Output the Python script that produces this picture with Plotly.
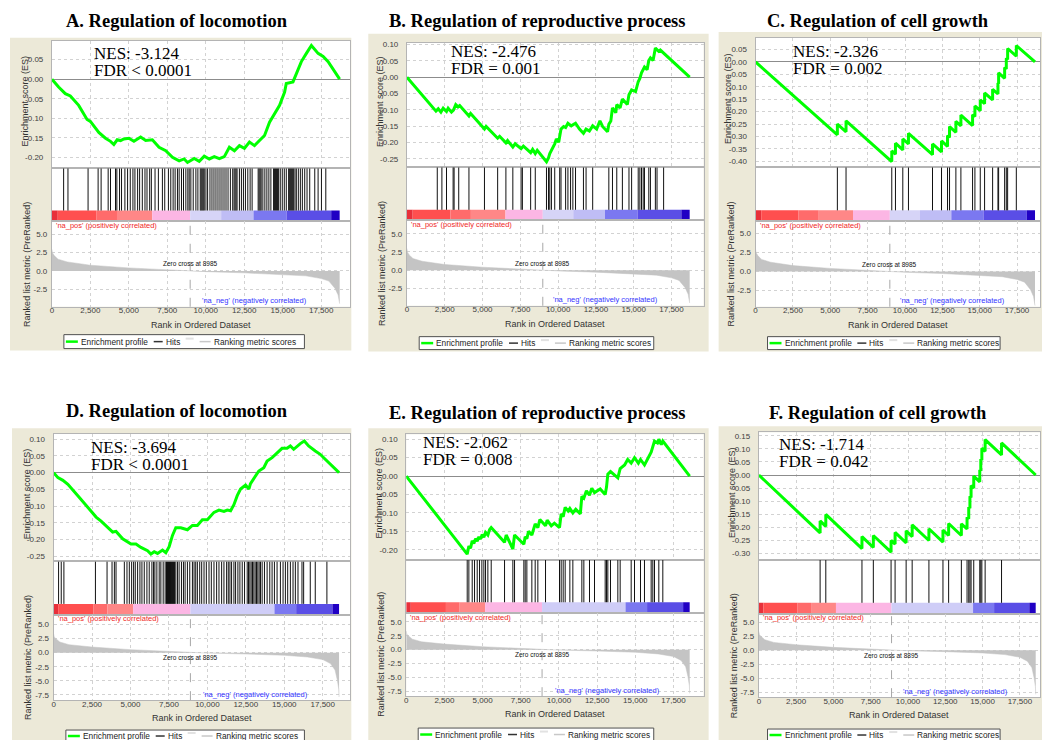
import plotly.graph_objects as go

W, H = 1044, 740

# ---------------------------------------------------------------- data
PANEL_TITLES = [
    "A. Regulation of locomotion",
    "B. Regulation of reproductive process",
    "C. Regulation of cell growth",
    "D. Regulation of locomotion",
    "E. Regulation of reproductive process",
    "F. Regulation of cell growth",
]
NES_TEXT = ["NES: -3.124", "NES: -2.476", "NES: -2.326",
            "NES: -3.694", "NES: -2.062", "NES: -1.714"]
FDR_TEXT = ["FDR < 0.0001", "FDR = 0.001", "FDR = 0.002",
            "FDR < 0.0001", "FDR = 0.008", "FDR = 0.042"]
ZERO_CROSS = [8985, 8985, 8985, 8895, 8895, 8895]
N_GENES = [18700, 18700, 18700, 18560, 18560, 18560]
RANK_TICKS = [0, 2500, 5000, 7500, 10000, 12500, 15000, 17500]

# running enrichment score, panel A
ES_A_RANK = [0, 435, 870, 1197, 1741, 2285, 2500, 3046, 3482, 3808, 4026, 4243, 4461, 4678,
             5005, 5331, 5766, 6093, 6528, 6963, 7398, 7834, 8269, 8595, 8813, 9248, 9574,
             9901, 10227, 10554, 10880, 11206, 11533, 11860, 12186, 12512, 12838, 13165,
             13491, 13818, 14144, 14470, 14797, 15123, 15232, 15667, 15885, 16211, 16538,
             16864, 17299, 17626, 17952, 18700]
ES_A_SCORE = [0, -0.020, -0.037, -0.043, -0.067, -0.103, -0.108, -0.136, -0.151, -0.159,
              -0.167, -0.155, -0.157, -0.153, -0.151, -0.159, -0.148, -0.157, -0.155, -0.174,
              -0.183, -0.200, -0.209, -0.204, -0.213, -0.203, -0.210, -0.197, -0.204, -0.198,
              -0.203, -0.198, -0.174, -0.183, -0.170, -0.177, -0.161, -0.170, -0.157, -0.144,
              -0.110, -0.088, -0.067, -0.033, -0.011, -0.007, 0.015, 0.045, 0.066, 0.086,
              0.066, 0.058, 0.045, 0.0]

# panel B
ES_B_RANK = [0, 1920, 2073, 2247, 2400, 2618, 2727, 2946, 3077, 3229, 3382, 3491, 4102, 4211,
             5128, 5237, 6000, 6131, 6546, 6655, 7004, 7157, 7550, 7703, 8183, 8314, 8488,
             8619, 9230, 9361, 9448, 9622, 9775, 9884, 10037, 10190, 10365, 10495, 10648,
             10866, 11150, 11412, 11674, 11848, 12067, 12285, 12547, 12765, 12939, 13267,
             13354, 13485, 13594, 13812, 13878, 14096, 14249, 14576, 14685, 14860, 15122,
             15296, 15405, 15514, 15624, 15711, 15885, 15995, 16104, 16278, 16431, 16649,
             16758, 18700]
ES_B_SCORE = [0, -0.104, -0.097, -0.107, -0.095, -0.105, -0.095, -0.107, -0.101, -0.084,
              -0.091, -0.087, -0.119, -0.111, -0.159, -0.151, -0.187, -0.181, -0.201, -0.194,
              -0.214, -0.204, -0.219, -0.211, -0.231, -0.221, -0.234, -0.224, -0.259, -0.247,
              -0.234, -0.219, -0.204, -0.189, -0.199, -0.159, -0.151, -0.154, -0.141, -0.149,
              -0.141, -0.159, -0.172, -0.159, -0.165, -0.149, -0.159, -0.134, -0.151, -0.167,
              -0.144, -0.134, -0.094, -0.109, -0.084, -0.094, -0.067, -0.084, -0.054, -0.039,
              -0.044, -0.014, -0.004, 0.013, 0.023, 0.031, 0.023, 0.051, 0.059, 0.051,
              0.089, 0.079, 0.083, 0.0]

# panel C (value before / after each hit)
ES_C_RANK = [0, 5474, 5474, 6055, 6055, 9115, 9115, 9361, 9361, 9853, 9853, 10232, 10232,
             11841, 11841, 12444, 12444, 12846, 12846, 12980, 12980, 13405, 13405, 13740,
             13740, 14522, 14522, 14678, 14678, 15036, 15036, 15326, 15326, 15863, 15863,
             16220, 16220, 16265, 16265, 16667, 16667, 16779, 16779, 16868, 16868, 17449,
             17449, 18700]
ES_C_SCORE = [0, -0.293, -0.250, -0.281, -0.237, -0.401, -0.358, -0.371, -0.327, -0.354,
              -0.310, -0.330, -0.287, -0.373, -0.330, -0.362, -0.318, -0.340, -0.296, -0.304,
              -0.260, -0.283, -0.239, -0.257, -0.214, -0.256, -0.212, -0.220, -0.177, -0.196,
              -0.153, -0.168, -0.125, -0.153, -0.110, -0.129, -0.085, -0.088, -0.044, -0.066,
              -0.022, -0.028, 0.015, 0.010, 0.054, 0.023, 0.066, 0.0]

# panel D
ES_D_RANK = [0, 281, 605, 928, 1576, 2224, 2763, 3087, 3519, 3843, 4059, 4491, 5031, 5354,
             5678, 6110, 6326, 6542, 6757, 7081, 7297, 7513, 7729, 7945, 8269, 8701, 9025,
             9348, 9672, 9996, 10428, 10752, 11076, 11292, 11508, 11724, 11940, 12156, 12480,
             12696, 12803, 13127, 13343, 13667, 13883, 14207, 14530, 14854, 15178, 15394,
             15610, 15826, 16042, 16301, 16581, 17013, 17337, 17661, 17985, 18560]
ES_D_SCORE = [0, -0.015, -0.023, -0.035, -0.069, -0.104, -0.133, -0.145, -0.165, -0.178,
              -0.176, -0.198, -0.214, -0.214, -0.224, -0.234, -0.244, -0.237, -0.242, -0.232,
              -0.240, -0.222, -0.188, -0.165, -0.165, -0.171, -0.158, -0.158, -0.141, -0.141,
              -0.119, -0.112, -0.116, -0.112, -0.114, -0.096, -0.069, -0.049, -0.037, -0.049,
              -0.033, -0.010, 0.005, 0.015, 0.035, 0.045, 0.060, 0.073, 0.073, 0.080,
              0.070, 0.080, 0.087, 0.095, 0.080, 0.065, 0.055, 0.040, 0.025, 0.0]

# panel E
ES_E_RANK = [0, 3993, 4102, 4211, 4320, 4429, 4539, 4648, 4757, 4866, 4975, 5084, 5193, 5346,
             5455, 5564, 6437, 6546, 6982, 7092, 7702, 7790, 7899, 8010, 8226, 8444, 8619,
             8750, 9121, 9230, 9500, 9700, 10037, 10146, 10277, 10408, 10600, 10714, 10910,
             11100, 11400, 11499, 11630, 11800, 12001, 12150, 12328, 12700, 13027, 13114,
             13201, 13376, 13856, 14008, 14300, 14500, 14729, 14947, 15200, 15340, 15601,
             15800, 16038, 16147, 16256, 16450, 16539, 16700, 16801, 18560]
ES_E_SCORE = [0, -0.212, -0.190, -0.196, -0.176, -0.183, -0.170, -0.177, -0.165, -0.171,
              -0.159, -0.166, -0.153, -0.160, -0.146, -0.140, -0.180, -0.160, -0.198, -0.160,
              -0.185, -0.165, -0.170, -0.150, -0.160, -0.130, -0.140, -0.118, -0.135, -0.120,
              -0.135, -0.128, -0.140, -0.103, -0.110, -0.085, -0.095, -0.088, -0.100, -0.090,
              -0.103, -0.055, -0.060, -0.040, -0.052, -0.033, -0.045, -0.035, -0.050, -0.030,
              0.005, 0.012, -0.005, 0.020, 0.030, 0.045, 0.035, 0.050, 0.035, 0.045,
              0.030, 0.045, 0.065, 0.080, 0.095, 0.090, 0.100, 0.085, 0.095, 0.0]

# panel F (value before / after each hit)
ES_F_RANK = [0, 4107, 4107, 4488, 4488, 6912, 6912, 7675, 7675, 8864, 8864, 9133, 9133, 9874,
             9874, 10278, 10278, 11400, 11400, 12342, 12342, 12723, 12723, 13576, 13576,
             13957, 13957, 14070, 14070, 14150, 14150, 14227, 14227, 14406, 14406, 14810,
             14810, 14878, 14878, 14950, 14950, 15169, 15169, 16269, 16269, 18560]
ES_F_SCORE = [0, -0.222, -0.176, -0.197, -0.151, -0.282, -0.236, -0.278, -0.232, -0.296,
              -0.251, -0.265, -0.220, -0.260, -0.214, -0.236, -0.191, -0.251, -0.206, -0.257,
              -0.211, -0.232, -0.186, -0.232, -0.187, -0.207, -0.162, -0.168, -0.123, -0.127,
              -0.081, -0.086, -0.040, -0.050, -0.004, -0.026, 0.019, 0.016, 0.061, 0.057,
              0.103, 0.091, 0.136, 0.077, 0.123, 0.0]

# gene-set member positions in the ranked list
HITS_A = [762, 1044, 2350, 3003, 3199, 3656, 3808, 4134, 4221, 4396, 4526, 4744, 4918, 5092,
          5266, 5396, 5571, 5701, 5875, 6049, 6180, 6354, 6463, 6702, 6920, 7181, 7333, 7572,
          7725, 7877, 8008, 8160, 8269, 8421, 8552, 8704, 8835, 8922, 9030, 9183, 9357, 9487,
          9640, 9705, 9770, 9836, 9901, 10010, 10118, 10271, 10401, 10532, 10662, 10793,
          10924, 11054, 11185, 11315, 11446, 11598, 11750, 11838, 11903, 11968, 12033, 12186,
          12316, 12447, 12577, 12730, 12882, 13012, 13404, 13469, 13535, 13600, 13709, 13839,
          13970, 14100, 14231, 14405, 14470, 14535, 14601, 14666, 14732, 14840, 14971, 15102,
          15232, 15384, 15450, 15515, 15580, 15646, 15711, 15798, 15885, 16015, 16146, 16276,
          16429, 16581, 16755, 17082, 17299, 17517, 17800]
HITS_B = [2007, 2313, 2618, 3055, 3120, 3426, 4102, 5128, 6000, 6546, 7004, 7550, 7637, 8183,
          8488, 9230, 9361, 9448, 9557, 9775, 10103, 10190, 10495, 10648, 10823, 10975, 11150,
          11674, 11848, 12285, 13354, 13594, 13878, 14249, 14685, 14860, 15296, 15405, 15514,
          15624, 15711, 15995, 16104, 16431, 16540, 16976]
HITS_C = [5474, 6055, 9115, 9361, 9853, 10232, 11841, 12444, 12846, 12980, 13405, 13740,
          14522, 14678, 15036, 15326, 15863, 16220, 16265, 16667, 16779, 16868, 17449]
HITS_D = [324, 497, 669, 2720, 3476, 3800, 3951, 4059, 4599, 4771, 4923, 5074, 5203, 5311,
          5462, 5613, 5743, 5894, 6067, 6218, 6391, 6499, 6585, 6714, 6866, 6974, 7125, 7254,
          7341, 7405, 7470, 7535, 7600, 7664, 7729, 7794, 7859, 7945, 8053, 8161, 8312, 8442,
          8550, 8701, 8852, 9025, 9133, 9241, 9348, 9500, 9629, 9780, 9931, 10104, 10255,
          10428, 10600, 10752, 10925, 11076, 11249, 11357, 11465, 11572, 11724, 11832, 11983,
          12113, 12264, 12415, 12588, 12674, 12760, 12846, 12933, 13019, 13105, 13192, 13278,
          13364, 13451, 13559, 13710, 13883, 14055, 14206, 14357, 14530, 14746, 14919, 15070,
          15221, 15394, 15567, 15718, 15890, 16149, 16257, 16689, 17013, 17769]
HITS_E = [3993, 4102, 4320, 4473, 4648, 4800, 4953, 5084, 5193, 5346, 5564, 6437, 6982, 7092,
          7702, 7790, 7899, 8226, 8444, 8619, 9121, 10037, 10146, 10277, 10408, 10714, 10910,
          11499, 11630, 12001, 12328, 13027, 13114, 13201, 13376, 13856, 14008, 14729, 14947,
          15340, 15601, 16038, 16147, 16256, 16539, 16801]
HITS_F = [4107, 4488, 6912, 7675, 8864, 9133, 9874, 10278, 11400, 12342, 12723, 13576, 13957,
          14070, 14150, 14227, 14406, 14810, 14878, 14950, 15169, 16269]

# ranked list metric (pre-ranked scores), first and second datasets
METRIC_1_RANK = [0, 30, 150, 400, 1000, 2500, 5000, 7500, 8985, 10000, 12500, 15000, 16500,
                 17500, 18000, 18400, 18600, 18700]
METRIC_1_VALUE = [2.96, 2.5, 2.1, 1.6, 1.23, 0.78, 0.41, 0.14, 0.0, -0.1, -0.27, -0.5, -0.68,
                  -1.05, -1.4, -2.4, -3.3, -4.5]
METRIC_2_RANK = [0, 40, 150, 400, 1000, 2500, 5000, 7500, 8895, 10000, 12500, 15000, 16500,
                 17500, 18000, 18300, 18450, 18540, 18560]
METRIC_2_VALUE = [3.37, 2.8, 2.48, 1.9, 1.42, 1.0, 0.53, 0.24, 0.0, -0.08, -0.24, -0.47, -0.77,
                  -1.24, -1.95, -3.1, -4.9, -6.5, -7.9]

# heat-map strip under the hits (rank boundaries and colours)
STRIP_1_EDGES = [0, 380, 2880, 4230, 6520, 8985, 11000, 13100, 15250, 18150, 18700]
STRIP_1_COLORS = ["#E8303A", "#FF4F4F", "#FF6B6B", "#FF8787", "#FCB6E4",
                  "#D6D4F7", "#BFBDF5", "#7B78F0", "#5A4EE6", "#2000C4"]
STRIP_2_EDGES = [0, 300, 2600, 3500, 5170, 8895, 14360, 15770, 18130, 18560]
STRIP_2_COLORS = ["#E8303A", "#FF4F4F", "#FF6B6B", "#FF8787", "#FCB6E4",
                  "#CFCDF7", "#7B78F0", "#5A4EE6", "#2000C4"]

ES_RANKS = [ES_A_RANK, ES_B_RANK, ES_C_RANK, ES_D_RANK, ES_E_RANK, ES_F_RANK]
ES_SCORES = [ES_A_SCORE, ES_B_SCORE, ES_C_SCORE, ES_D_SCORE, ES_E_SCORE, ES_F_SCORE]
HITS = [HITS_A, HITS_B, HITS_C, HITS_D, HITS_E, HITS_F]
METRICS = [(METRIC_1_RANK, METRIC_1_VALUE)] * 3 + [(METRIC_2_RANK, METRIC_2_VALUE)] * 3
STRIPS = [(STRIP_1_EDGES, STRIP_1_COLORS)] * 3 + [(STRIP_2_EDGES, STRIP_2_COLORS)] * 3

# ---------------------------------------------------------------- layout geometry (pixels)
GEOM = [
    dict(left=50, right=349, es=(38, 166), hits=(166, 219), met=(219, 305), xmax=19394,
         es_rng=(-0.228, 0.098), met_rng=(-4.92, 6.83), box=(8, 35, 350, 349),
         title=(175, 18), nes=(90, 51), legend=(62, 333, 303, 347), zc_shift=7),
    dict(left=405.7, right=703, es=(40, 165), hits=(165, 218.3), met=(218.3, 304), xmax=19624,
         es_rng=(-0.276, 0.105), met_rng=(-4.88, 6.83), box=(367, 31, 708, 350),
         title=(537, 18), nes=(448, 48.5), legend=(418, 335, 653, 348), zc_shift=7),
    dict(left=755, right=1040, es=(34.7, 165), hits=(165, 219), met=(219, 305), xmax=19034,
         es_rng=(-0.424, 0.098), met_rng=(-4.65, 6.65), box=(718, 29, 1042, 350),
         title=(878, 18), nes=(791, 49), legend=(767, 335, 1000, 348), zc_shift=7),
    dict(left=51.7, right=349, es=(432.7, 560.7), hits=(560.7, 614), met=(614, 700), xmax=19293,
         es_rng=(-0.266, 0.116), met_rng=(-8.46, 6.79), box=(10, 427, 350, 740),
         title=(175, 410), nes=(87, 446), legend=(64, 730, 303, 742), zc_shift=-5),
    dict(left=405, right=703, es=(433, 559.3), hits=(559.3, 612.3), met=(612.3, 696), xmax=19475,
         es_rng=(-0.228, 0.1135), met_rng=(-8.4, 6.65), box=(367, 427, 708, 740),
         title=(537, 412), nes=(420, 441), legend=(417, 728, 653, 741), zc_shift=-5),
    dict(left=758.3, right=1040, es=(431, 559.3), hits=(559.3, 613), met=(613, 697), xmax=18848,
         es_rng=(-0.326, 0.164), met_rng=(-8.4, 6.6), box=(718, 425, 1042, 740),
         title=(878, 412), nes=(776, 443), legend=(767, 729, 1000, 741), zc_shift=-5),
]

BEIGE = "#ECE9D8"
GRID = "#D2D2D2"
FRAME = "#B4B4B4"
GREEN = "#00FF00"
TICK_FONT = dict(family="Liberation Sans", size=8, color="#404040")
LABEL_FONT = dict(family="Liberation Sans", size=9, color="#333333")
STRIP_TOP = 0.2  # fraction of the hits strip used by the colour band


def px(x):
    return x / W


def py(y):
    return 1 - y / H


def ax_name(kind, i):
    return kind + "axis" + ("" if i == 1 else str(i))


def ref(kind, i):
    return kind + ("" if i == 1 else str(i))


fig = go.Figure()
shapes, annotations, layout_axes = [], [], {}

for p, g in enumerate(GEOM):
    ia, ib, ic = 3 * p + 1, 3 * p + 2, 3 * p + 3
    xdom = [px(g["left"]), px(g["right"])]
    n_genes = N_GENES[p]

    # panel background and white plotting area
    bx0, by0, bx1, by1 = g["box"]
    shapes.append(dict(type="rect", xref="paper", yref="paper", layer="below",
                       x0=px(bx0), x1=px(bx1), y0=py(by1), y1=py(by0),
                       fillcolor=BEIGE, line=dict(width=0)))
    shapes.append(dict(type="rect", xref="paper", yref="paper", layer="below",
                       x0=xdom[0], x1=xdom[1], y0=py(g["met"][1]), y1=py(g["es"][0]),
                       fillcolor="white", line=dict(width=0)))

    common_x = dict(domain=xdom, range=[0, g["xmax"]], showline=True, mirror=True,
                    linecolor=FRAME, linewidth=1, zeroline=False, ticks="")

    # --- enrichment score
    lo, hi = g["es_rng"]
    es_ticks = [round(k * 0.05, 2) for k in range(-10, 5) if lo < k * 0.05 < hi]
    layout_axes[ax_name("x", ia)] = dict(common_x, anchor=ref("y", ia), tickvals=RANK_TICKS,
                                         showticklabels=False, showgrid=True,
                                         gridcolor=GRID, griddash="dot")
    layout_axes[ax_name("y", ia)] = dict(domain=[py(g["es"][1]), py(g["es"][0])],
                                         range=[lo, hi], anchor=ref("x", ia),
                                         tickvals=es_ticks,
                                         ticktext=[f"{v:.2f}" for v in es_ticks],
                                         tickfont=TICK_FONT, ticks="", ticklabelstandoff=6,
                                         showgrid=True, gridcolor=GRID, griddash="dot",
                                         zeroline=True, zerolinecolor="#8C8C8C",
                                         zerolinewidth=1, showline=True, mirror=True,
                                         linecolor=FRAME)
    fig.add_trace(go.Scatter(x=ES_RANKS[p], y=ES_SCORES[p], mode="lines",
                             line=dict(color=GREEN, width=3), hoverinfo="skip",
                             showlegend=False, xaxis=ref("x", ia), yaxis=ref("y", ia)))

    # --- hits and colour strip
    layout_axes[ax_name("x", ib)] = dict(common_x, anchor=ref("y", ib), showticklabels=False,
                                         showgrid=False)
    layout_axes[ax_name("y", ib)] = dict(domain=[py(g["hits"][1]), py(g["hits"][0])],
                                         range=[0, 1], anchor=ref("x", ib),
                                         showticklabels=False, showgrid=False, zeroline=False,
                                         showline=True, mirror=True, linecolor=FRAME, ticks="")
    edges, colors = STRIPS[p]
    edges = edges[:-1] + [n_genes]
    fig.add_trace(go.Bar(x=[(a + b) / 2 for a, b in zip(edges[:-1], edges[1:])],
                         width=[b - a for a, b in zip(edges[:-1], edges[1:])],
                         y=[STRIP_TOP] * len(colors), base=0,
                         marker=dict(color=colors, line=dict(width=0)),
                         hoverinfo="skip", showlegend=False,
                         xaxis=ref("x", ib), yaxis=ref("y", ib)))
    hx, hy = [], []
    for h in HITS[p]:
        hx += [h, h, None]
        hy += [STRIP_TOP, 1, None]
    fig.add_trace(go.Scatter(x=hx, y=hy, mode="lines", line=dict(color="#111111", width=1),
                             hoverinfo="skip", showlegend=False,
                             xaxis=ref("x", ib), yaxis=ref("y", ib)))

    # --- ranked list metric
    mlo, mhi = g["met_rng"]
    met_ticks = [k * 2.5 for k in range(-4, 3) if mlo < k * 2.5 < mhi]
    layout_axes[ax_name("x", ic)] = dict(common_x, anchor=ref("y", ic), tickvals=RANK_TICKS,
                                         ticktext=[f"{v:,}" for v in RANK_TICKS],
                                         tickfont=TICK_FONT, showgrid=True, gridcolor=GRID,
                                         griddash="dot", ticklabelstandoff=-4)
    layout_axes[ax_name("y", ic)] = dict(domain=[py(g["met"][1]), py(g["met"][0])],
                                         range=[mlo, mhi], anchor=ref("x", ic),
                                         tickvals=met_ticks,
                                         ticktext=[f"{v:.1f}" for v in met_ticks],
                                         tickfont=TICK_FONT, ticks="", ticklabelstandoff=2,
                                         showgrid=True, gridcolor=GRID, griddash="dot",
                                         zeroline=False, showline=True, mirror=True,
                                         linecolor=FRAME)
    m_rank, m_val = METRICS[p]
    fig.add_trace(go.Scatter(x=m_rank, y=m_val, mode="lines", fill="tozeroy",
                             fillcolor="#C4C4C4", line=dict(color="#C4C4C4", width=0.5),
                             hoverinfo="skip", showlegend=False,
                             xaxis=ref("x", ic), yaxis=ref("y", ic)))
    shapes.append(dict(type="line", xref=ref("x", ic), yref=ref("y", ic) + " domain",
                       x0=ZERO_CROSS[p], x1=ZERO_CROSS[p], y0=0, y1=1,
                       line=dict(color="#A8A8A8", width=1, dash="dash")))

    # --- texts
    annotations.append(dict(text=PANEL_TITLES[p], x=px(g["title"][0]), y=py(g["title"][1]),
                            xref="paper", yref="paper", xanchor="center", yanchor="middle",
                            showarrow=False,
                            font=dict(family="Liberation Serif", size=18.5, color="black",
                                      weight="bold")))
    for k, txt in enumerate([NES_TEXT[p], FDR_TEXT[p]]):
        annotations.append(dict(text=txt, x=px(g["nes"][0]), y=py(g["nes"][1] + 17 * k),
                                xref="paper", yref="paper", xanchor="left", yanchor="middle",
                                showarrow=False,
                                font=dict(family="Liberation Serif", size=17, color="black")))
    annotations.append(dict(text="Enrichment score (ES)", textangle=-90,
                            x=px(g["left"] - 27), y=py((g["es"][0] + g["es"][1]) / 2 - 4),
                            xref="paper", yref="paper", xanchor="center", yanchor="middle",
                            showarrow=False, font=LABEL_FONT))
    annotations.append(dict(text="Ranked list metric (PreRanked)", textangle=-90,
                            x=px(g["left"] - 25), y=py((g["met"][0] + g["met"][1]) / 2),
                            xref="paper", yref="paper", xanchor="center", yanchor="middle",
                            showarrow=False, font=LABEL_FONT))
    annotations.append(dict(text="Rank in Ordered Dataset",
                            x=px((g["left"] + g["right"]) / 2), y=py(g["met"][1] + 18),
                            xref="paper", yref="paper", xanchor="center", yanchor="middle",
                            showarrow=False,
                            font=dict(family="Liberation Sans", size=9, color="#333333")))
    annotations.append(dict(text=f"Zero cross at {ZERO_CROSS[p]}", x=ZERO_CROSS[p], y=0,
                            xref=ref("x", ic), yref=ref("y", ic), yshift=g["zc_shift"],
                            xanchor="center", yanchor="middle", showarrow=False,
                            font=dict(family="Liberation Sans", size=6.5, color="#111111")))
    annotations.append(dict(text="'na_pos' (positively correlated)",
                            x=px(g["left"] + 2), y=py(g["met"][0] + 4.5),
                            xref="paper", yref="paper", xanchor="left", yanchor="middle",
                            showarrow=False,
                            font=dict(family="Liberation Sans", size=7.5, color="#F02828")))
    annotations.append(dict(text="'na_neg' (negatively correlated)",
                            x=13150, y=py(g["met"][1] - 6),
                            xref=ref("x", ic), yref="paper", xanchor="center",
                            yanchor="middle", showarrow=False,
                            font=dict(family="Liberation Sans", size=7.5, color="#3434FF")))

    # --- legend box
    L, T, R, B = g["legend"]
    cy = (T + B) / 2
    shapes.append(dict(type="rect", xref="paper", yref="paper", x0=px(L), x1=px(R),
                       y0=py(B), y1=py(T), fillcolor="white",
                       line=dict(color="#505050", width=1)))
    for (a, b, col, wdt, dy) in [(2, 14, GREEN, 2.5, 0), (90, 99, "#333333", 1.5, 0),
                                 (122, 130, "#E2E2E2", 2, -3), (136, 147, "#C8C8C8", 1.5, 0)]:
        shapes.append(dict(type="line", xref="paper", yref="paper",
                           x0=px(L + a), x1=px(L + b), y0=py(cy + dy), y1=py(cy + dy),
                           line=dict(color=col, width=wdt)))
    for (a, txt) in [(15, "Enrichment profile"), (100, "Hits"), (148, "Ranking metric scores")]:
        annotations.append(dict(text=txt, x=px(L + a), y=py(cy), xref="paper", yref="paper",
                                xanchor="left", yanchor="middle", showarrow=False,
                                font=dict(family="Liberation Sans", size=8.3, color="#222222")))

fig.update_layout(width=W, height=H, margin=dict(l=0, r=0, t=0, b=0),
                  paper_bgcolor="white", plot_bgcolor="rgba(0,0,0,0)",
                  barmode="overlay", showlegend=False,
                  shapes=shapes, annotations=annotations, **layout_axes)

fig.write_html("out.html")
